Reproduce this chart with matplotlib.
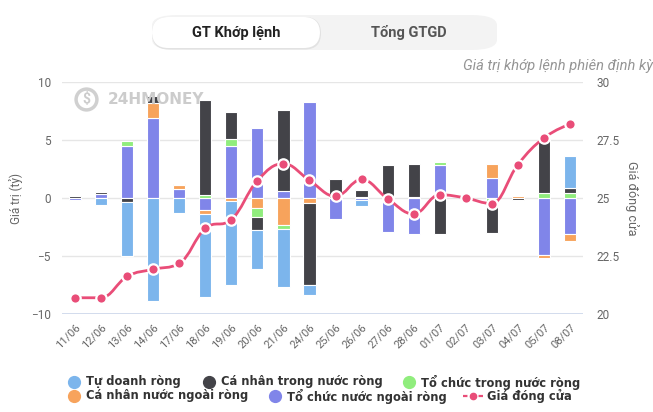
import matplotlib
matplotlib.use("Agg")
import matplotlib.pyplot as plt
import numpy as np
from matplotlib.path import Path
from matplotlib.patches import PathPatch, FancyBboxPatch
from matplotlib.lines import Line2D

dates = ['11/06','12/06','13/06','14/06','17/06','18/06','19/06','20/06','21/06','24/06',
         '25/06','26/06','27/06','28/06','01/07','02/07','03/07','04/07','05/07','08/07']

tu_doanh = [0, -0.63, -4.65, -8.88, -1.32, -7.2, -7.2, -3.36, -4.94, -0.8,
            0, -0.55, 0, 0, 0, 0, 0, 0, 0, 2.73]
ca_nhan_trong_nuoc = [0.15, 0.2, -0.35, 0.62, 0.15, 8.18, 2.35, -1.15, 7.0, -7.08,
                      1.67, 0.55, 2.87, 2.85, -3.13, 0, -2.4, -0.15, 4.7, 0.45]
to_chuc_trong_nuoc = [0, 0, 0.45, 0, 0, 0.3, 0.6, -0.7, -0.4, 0,
                      0, 0, 0, 0, 0.2, 0, -0.6, 0, 0.4, 0.43]
ca_nhan_nuoc_ngoai = [0, 0, 0, 1.3, 0.35, -0.35, -0.3, -0.9, -2.3, -0.45,
                      0, 0.1, 0, 0.1, 0, 0, 1.2, 0.15, -0.3, -0.55]
to_chuc_nuoc_ngoai = [-0.15, 0.32, 4.5, 6.9, 0.75, -1.0, 4.45, 6.06, 0.6, 8.25,
                      -1.78, -0.15, -2.96, -3.07, 2.87, 0, 1.7, 0, -4.88, -3.13]
gia_dong_cua = [20.7, 20.7, 21.62, 21.93, 22.18, 23.69, 24.07, 25.75, 26.48, 25.76,
                25.07, 25.8, 24.97, 24.31, 25.14, 25.0, 24.76, 26.44, 27.59, 28.19]

names = ['Tự doanh ròng', 'Cá nhân trong nước ròng', 'Tổ chức trong nước ròng',
         'Cá nhân nước ngoài ròng', 'Tổ chức nước ngoài ròng']
colors = ['#7cb5ec', '#434348', '#90ed7d', '#f7a35c', '#8085e9']
line_color = '#e94d78'
series = [tu_doanh, ca_nhan_trong_nuoc, to_chuc_trong_nuoc, ca_nhan_nuoc_ngoai, to_chuc_nuoc_ngoai]

W, H = 653, 412
fig = plt.figure(figsize=(W/100, H/100), dpi=100)
plt.rcParams['font.family'] = ['Roboto', 'DejaVu Sans']

def fx(px): return px / W
def fy(py): return 1 - py / H

ax = fig.add_axes([fx(62), fy(314), fx(583) - fx(62), fy(82) - fy(314)])
ax2 = ax.twinx()

x = np.arange(len(dates))
pos_base = np.zeros(len(dates))
neg_base = np.zeros(len(dates))
# stacking from zero outward: last series closest to zero
for idx in [4, 3, 2, 1, 0]:
    vals = np.array(series[idx], dtype=float)
    for i, v in enumerate(vals):
        if v == 0:
            continue
        if v > 0:
            ax.bar(x[i], v, bottom=pos_base[i], width=0.47, color=colors[idx],
                   edgecolor='white', linewidth=0.8, zorder=2)
            pos_base[i] += v
        else:
            ax.bar(x[i], v, bottom=neg_base[i], width=0.47, color=colors[idx],
                   edgecolor='white', linewidth=0.8, zorder=2)
            neg_base[i] += v

ax.set_xlim(-0.5, len(dates) - 0.5)
ax.set_ylim(-10, 10)
ax.set_yticks([-10, -5, 0, 5, 10])
ax.tick_params(axis='y', length=0, labelsize=8.5, labelcolor='#666666', pad=8)
ax.set_xticks(x)
ax.set_xticklabels(dates, rotation=45, ha='right', rotation_mode='anchor')
ax.tick_params(axis='x', length=0, labelsize=8, labelcolor='#666666', pad=6)
ax.grid(axis='y', color='#e6e6e6', linewidth=1, zorder=0)
ax.set_axisbelow(True)
for s in ax.spines.values():
    s.set_visible(False)
ax.axhline(-10, color='#ccd6eb', linewidth=1.2, zorder=1)
ax.set_ylabel('Giá trị (tỷ)', color='#666666', fontsize=8.5, labelpad=6)

ax2.set_ylim(20, 30)
ax2.set_yticks([20, 22.5, 25, 27.5, 30])
ax2.set_yticklabels(['20', '22.5', '25', '27.5', '30'])
ax2.tick_params(axis='y', length=0, labelsize=8.5, labelcolor='#666666', pad=10)
for s in ax2.spines.values():
    s.set_visible(False)
ax2.set_ylabel('Giá đóng cửa', color='#666666', fontsize=9, rotation=-90, labelpad=14)

# spline (Highcharts-like) through the closing prices
px_ = list(x.astype(float))
py_ = list(gia_dong_cua)
n = len(px_)
sm = 1.5
leftC = [None] * n
rightC = [None] * n
for i in range(n):
    if i == 0 or i == n - 1:
        leftC[i] = (px_[i], py_[i]); rightC[i] = (px_[i], py_[i]); continue
    lx = (sm * px_[i] + px_[i-1]) / (sm + 1); ly = (sm * py_[i] + py_[i-1]) / (sm + 1)
    rx = (sm * px_[i] + px_[i+1]) / (sm + 1); ry = (sm * py_[i] + py_[i+1]) / (sm + 1)
    corr = ((ry - ly) * (rx - px_[i])) / (rx - lx) + py_[i] - ry
    ly += corr; ry += corr
    if ly > py_[i-1] and ly > py_[i]:
        ly = max(py_[i-1], py_[i]); ry = 2 * py_[i] - ly
    elif ly < py_[i-1] and ly < py_[i]:
        ly = min(py_[i-1], py_[i]); ry = 2 * py_[i] - ly
    if ry > py_[i+1] and ry > py_[i]:
        ry = max(py_[i+1], py_[i]); ly = 2 * py_[i] - ry
    elif ry < py_[i+1] and ry < py_[i]:
        ry = min(py_[i+1], py_[i]); ly = 2 * py_[i] - ry
    leftC[i] = (lx, ly); rightC[i] = (rx, ry)
verts = [(px_[0], py_[0])]
codes = [Path.MOVETO]
for i in range(1, n):
    verts += [rightC[i-1], leftC[i], (px_[i], py_[i])]
    codes += [Path.CURVE4] * 3
ax2.add_patch(PathPatch(Path(verts, codes), facecolor='none', edgecolor=line_color,
                        linewidth=2, zorder=3))
ax2.plot(x, gia_dong_cua, linestyle='none', marker='o', markersize=7.5,
         markerfacecolor=line_color, markeredgecolor='white', markeredgewidth=1.6, zorder=4)

# watermark
fig.text(fx(108), fy(100), '24HMONEY', fontsize=11, fontweight='bold', color='#cccccc',
         va='center', ha='left', family=['DejaVu Sans'])
fig.add_artist(Line2D([fx(86)], [fy(99)], marker='o', markersize=15, markerfacecolor='none',
                      markeredgecolor='#d0d0d0', markeredgewidth=2.5, linestyle='none',
                      transform=fig.transFigure))
fig.text(fx(86), fy(99), '$', fontsize=10, fontweight='bold', color='#cccccc',
         va='center', ha='center')

# toggle buttons
outer = FancyBboxPatch((fx(152), fy(50)), fx(497) - fx(152), fy(15) - fy(50),
                       boxstyle='round,pad=0,rounding_size=0.04', transform=fig.transFigure,
                       facecolor='#f3f3f3', edgecolor='none', mutation_aspect=H / W * 1.0)
fig.add_artist(outer)
shadow = FancyBboxPatch((fx(152), fy(49.5)), fx(321) - fx(152), fy(17) - fy(49.5),
                        boxstyle='round,pad=0,rounding_size=0.025', transform=fig.transFigure,
                        facecolor='#e2e2e2', edgecolor='none', mutation_aspect=W / H)
fig.add_artist(shadow)
inner = FancyBboxPatch((fx(152), fy(48)), fx(320) - fx(152), fy(17) - fy(48),
                       boxstyle='round,pad=0,rounding_size=0.025', transform=fig.transFigure,
                       facecolor='white', edgecolor='none', mutation_aspect=W / H)
fig.add_artist(inner)
fig.text(fx(236), fy(32.5), 'GT Khớp lệnh', fontsize=10.5, fontweight='bold', color='#222222',
         ha='center', va='center')
fig.text(fx(409), fy(32.5), 'Tổng GTGD', fontsize=10.5, fontweight='bold', color='#555555',
         ha='center', va='center')
fig.text(fx(463), fy(66), 'Giá trị khớp lệnh phiên định kỳ', fontsize=10.5, style='italic',
         color='#959595', ha='left', va='center')

# legend (two rows)
legend_rows = [
    [(74, 0), (209, 1), (409, 2)],
    [(74, 3), (275, 4), (473, 5)],
]
row_y = [382, 396]
lfont = ['DejaVu Sans']
for r, row in enumerate(legend_rows):
    yy = fy(row_y[r])
    for cx, idx in row:
        if idx < 5:
            fig.add_artist(Line2D([fx(cx)], [yy], marker='o', markersize=8.5, color=colors[idx],
                                  linestyle='none', transform=fig.transFigure))
            fig.text(fx(cx + 12), yy, names[idx], fontsize=8.3, fontweight='bold', color='#333333',
                     ha='left', va='center', family=lfont)
        else:
            fig.add_artist(Line2D([fx(cx - 10), fx(cx + 10)], [yy, yy], color=line_color,
                                  linewidth=1.6, linestyle=(0, (2, 1.5)), transform=fig.transFigure))
            fig.add_artist(Line2D([fx(cx)], [yy], marker='o', markersize=4.5, color=line_color,
                                  linestyle='none', transform=fig.transFigure))
            fig.text(fx(cx + 14), yy, 'Giá đóng cửa', fontsize=8.3, fontweight='bold', color='#333333',
                     ha='left', va='center', family=lfont)

fig.savefig('out.png', dpi=100)
